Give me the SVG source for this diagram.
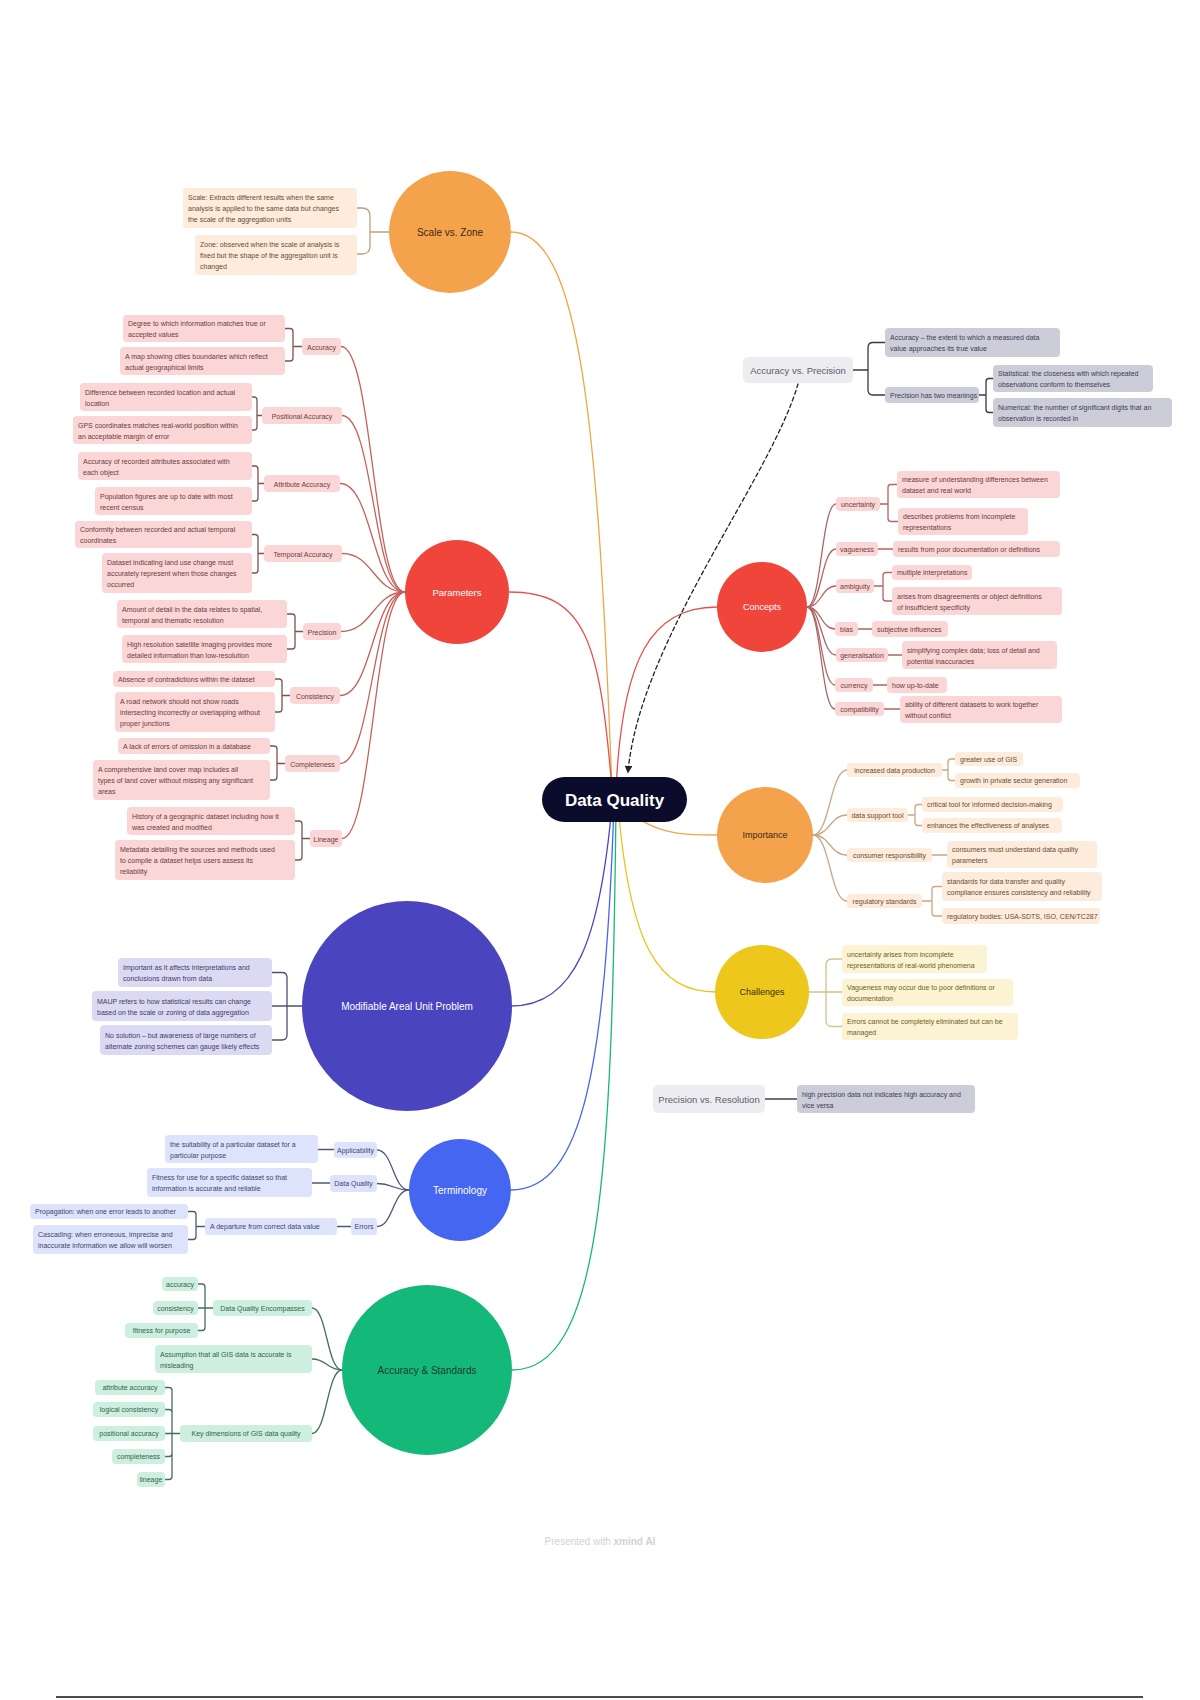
<svg xmlns="http://www.w3.org/2000/svg" width="1200" height="1700" viewBox="0 0 1200 1700">
<defs>
<marker id="arr" viewBox="0 0 10 10" refX="8" refY="5" markerWidth="6" markerHeight="6" orient="auto"><path d="M0,0 L10,5 L0,10 z" fill="#222"/></marker>
<style>
text{font-family:"Liberation Sans",Arial,sans-serif}
.t{font-size:7px}
.m{text-anchor:middle}
.or rect{fill:#FDEBDC}.or text{fill:#6A4B32}
.pk rect{fill:#FAD6D7}.pk text{fill:#6A3C3C}
.lv rect{fill:#DCDAF3}.lv text{fill:#3E3B6A}
.bl rect{fill:#DDE3FB}.bl text{fill:#3D4470}
.gr rect{fill:#CDEFE0}.gr text{fill:#355E4D}
.gy rect{fill:#CDCDDA}.gy text{fill:#3B3B55}
.ye rect{fill:#FBF3D2}.ye text{fill:#6A5E2A}
.tp rect{fill:#EDEDF1}.tp text{fill:#5A5A66;font-size:9.5px}
.c{fill:none;stroke-width:1.3;stroke-linecap:round}
.main text{text-anchor:middle}
</style>
</defs>
<rect width="1200" height="1700" fill="#FFFFFF"/>

<g id="connectors">
  <!-- root to main topics -->
  <path class="c" stroke="#EFA64A" d="M612,790 C598,420 580,232 511,232"/>
  <path class="c" stroke="#E0544C" d="M612,790 C600,640 585,592 509,592"/>
  <path class="c" stroke="#4B44C0" d="M612,805 C600,940 575,1006 511,1006"/>
  <path class="c" stroke="#4566F0" d="M614,805 C605,1060 585,1190 511,1190"/>
  <path class="c" stroke="#16B87A" d="M616,805 C612,1180 600,1370 512,1370"/>
  <path class="c" stroke="#E0544C" d="M616,790 C622,660 650,607 717,607"/>
  <path class="c" stroke="#EFA64A" d="M616,800 C650,835 680,835 717,835"/>
  <path class="c" stroke="#E8C51A" d="M618,805 C630,950 660,992 716,992"/>
  <path class="c" stroke="#222" stroke-dasharray="4 3" marker-end="url(#arr)" d="M798,384 C770,480 640,640 628,772"/>
  <!-- scale vs zone -->
  <path class="c" stroke="#BFA07E" d="M389,232 H370 V216 Q370,208 362,208 H357 M389,232 H370 V246 Q370,254 362,254 H357"/>
  <!-- parameters -->
  <g stroke="#C9605A" class="c">
    <path class="c" d="M405,592 C373,592 373,346.5 341,346.5"/>
    <path class="c" d="M405,592 C373.5,592 373.5,415.5 342,415.5"/>
    <path class="c" d="M405,592 C372.5,592 372.5,483.5 340,483.5"/>
    <path class="c" d="M405,592 C373.5,592 373.5,553.5 342,553.5"/>
    <path class="c" d="M405,592 C373,592 373,631.5 341,631.5"/>
    <path class="c" d="M405,592 C372.5,592 372.5,695.5 340,695.5"/>
    <path class="c" d="M405,592 C372.5,592 372.5,763.5 340,763.5"/>
    <path class="c" d="M405,592 C373.5,592 373.5,838.5 342,838.5"/>
  </g>
  <g stroke="#7D5252" class="c">
    <path class="c" d="M302,346.5 H293 V331.5 Q293,328.5 290,328.5 H285 M302,346.5 H293 V358 Q293,361 290,361 H285"/>
    <path class="c" d="M262,415.5 H257 V400 Q257,397 254,397 H252 M262,415.5 H257 V427 Q257,430 254,430 H252"/>
    <path class="c" d="M264,483.5 H258 V469 Q258,466 255,466 H252 M264,483.5 H258 V498 Q258,501 255,501 H252"/>
    <path class="c" d="M264,553.5 H258 V537.5 Q258,534.5 255,534.5 H252 M264,553.5 H258 V570 Q258,573 255,573 H252"/>
    <path class="c" d="M303,631.5 H295 V617 Q295,614 292,614 H287 M303,631.5 H295 V646 Q295,649 292,649 H287"/>
    <path class="c" d="M290,695.5 H282 V682 Q282,679 279,679 H275 M290,695.5 H282 V709 Q282,712 279,712 H275"/>
    <path class="c" d="M285,763.5 H277 V749 Q277,746 274,746 H270 M285,763.5 H277 V777 Q277,780 274,780 H270"/>
    <path class="c" d="M310,838.5 H302 V824 Q302,821 299,821 H295 M310,838.5 H302 V857 Q302,860 299,860 H295"/>
  </g>
  <!-- MAUP -->
  <path class="c" stroke="#4F4F70" d="M302,1006 H287 V977.5 Q287,972.5 282,972.5 H272 M302,1006 H272 M302,1006 H287 V1035 Q287,1040 282,1040 H272"/>
  <!-- terminology -->
  <g stroke="#50557A" class="c">
    <path class="c" d="M409,1190 C393,1190 393,1150 377,1150"/>
    <path class="c" d="M409,1190 C393,1190 393,1183.5 377,1183.5"/>
    <path class="c" d="M409,1190 C393,1190 393,1226.5 377,1226.5"/>
    <path class="c" d="M318,1149.5 H334 M312,1183 H330 M337,1226.5 H351"/>
    <path class="c" d="M205,1226.5 H196 V1214.5 Q196,1211.5 193,1211.5 H188 M205,1226.5 H196 V1236.5 Q196,1239.5 193,1239.5 H188"/>
  </g>
  <!-- accuracy & standards -->
  <g stroke="#456E5C" class="c">
    <path class="c" d="M342,1370 C327,1370 327,1308 312,1308"/>
    <path class="c" d="M342,1370 C327,1370 327,1359 312,1359"/>
    <path class="c" d="M342,1370 C327,1370 327,1433.5 312,1433.5"/>
    <path class="c" d="M213,1308 H205 V1287 Q205,1284 202,1284 H198 M213,1308 H198 M213,1308 H205 V1327.5 Q205,1330.5 202,1330.5 H198"/>
    <path class="c" d="M180,1433.5 H172 V1390.5 Q172,1387.5 169,1387.5 H165 M180,1433.5 H172 V1412.5 Q172,1409.5 169,1409.5 H165 M180,1433.5 H165 M180,1433.5 H172 V1453.5 Q172,1456.5 169,1456.5 H165 M180,1433.5 H172 V1476.5 Q172,1479.5 169,1479.5 H165"/>
  </g>
  <!-- accuracy vs precision -->
  <path class="c" stroke="#3A3A3A" d="M853,370 H868 V347.5 Q868,342.5 873,342.5 H885 M853,370 H868 V390 Q868,395 873,395 H885"/>
  <path class="c" stroke="#3A3A3A" d="M979,395 H986 V381.5 Q986,378.5 989,378.5 H993 M979,395 H986 V409.5 Q986,412.5 989,412.5 H993"/>
  <!-- concepts -->
  <g stroke="#B06464" class="c">
    <path class="c" d="M807,607 C821.5,607 821.5,504 836,504"/>
    <path class="c" d="M807,607 C821.5,607 821.5,549 836,549"/>
    <path class="c" d="M807,607 C821.5,607 821.5,586 836,586"/>
    <path class="c" d="M807,607 C821,607 821,629 835,629"/>
    <path class="c" d="M807,607 C821.5,607 821.5,655 836,655"/>
    <path class="c" d="M807,607 C821,607 821,685 835,685"/>
    <path class="c" d="M807,607 C821,607 821,709 835,709"/>
    <path class="c" d="M880,504 H888 V487.5 Q888,484.5 891,484.5 H897 M880,504 H888 V518.5 Q888,521.5 891,521.5 H898"/>
    <path class="c" d="M878,549 H893 M858,629 H872 M888,655 H902 M873,685 H887 M884,709 H900"/>
    <path class="c" d="M874,586 H883 V575.5 Q883,572.5 886,572.5 H892 M874,586 H883 V598 Q883,601 886,601 H892"/>
  </g>
  <!-- importance -->
  <g stroke="#C8A883" class="c">
    <path class="c" d="M813,835 C830,835 830,770 847,770"/>
    <path class="c" d="M813,835 C830,835 830,815 847,815"/>
    <path class="c" d="M813,835 C830,835 830,855 847,855"/>
    <path class="c" d="M813,835 C830,835 830,901 847,901"/>
    <path class="c" d="M942,770 H948 V762 Q948,759 951,759 H955 M942,770 H948 V777.5 Q948,780.5 951,780.5 H955"/>
    <path class="c" d="M908,815 H915 V807.5 Q915,804.5 918,804.5 H922 M908,815 H915 V822.5 Q915,825.5 918,825.5 H922"/>
    <path class="c" d="M932,855 H947"/>
    <path class="c" d="M922,901 H932 V889.5 Q932,886.5 935,886.5 H942 M922,901 H932 V913 Q932,916 935,916 H942"/>
  </g>
  <!-- challenges -->
  <path class="c" stroke="#CFC48C" d="M809,992 H826 V965 Q826,959 832,959 H842 M809,992 H842 M809,992 H826 V1020.5 Q826,1026.5 832,1026.5 H842"/>
  <!-- precision vs resolution -->
  <path class="c" stroke="#444" stroke-width="1.6" d="M765,1099 H797"/>
</g>

<!-- ROOT -->
<g id="root">
  <rect x="542" y="777" width="145" height="45" rx="22.5" fill="#0B0B2B"/>
  <text x="614.5" y="805.5" text-anchor="middle" font-size="17" font-weight="bold" fill="#FFFFFF">Data Quality</text>
</g>

<!-- MAIN TOPICS -->
<g id="scale-zone" class="main"><circle cx="450" cy="232" r="61" fill="#F4A24C"/><text x="450" y="236" font-size="10" fill="#3A2A1A">Scale vs. Zone</text></g>
<g id="parameters" class="main"><circle cx="457" cy="592" r="52" fill="#F0453A"/><text x="457" y="595.5" font-size="9.5" fill="#FFFFFF">Parameters</text></g>
<g id="maup" class="main"><circle cx="407" cy="1006" r="105" fill="#4A44BF"/><text x="407" y="1010" font-size="10" fill="#FFFFFF">Modifiable Areal Unit Problem</text></g>
<g id="terminology" class="main"><circle cx="460" cy="1190" r="51" fill="#4566F0"/><text x="460" y="1193.5" font-size="10" fill="#FFFFFF">Terminology</text></g>
<g id="accuracy-standards" class="main"><circle cx="427" cy="1370" r="85" fill="#14B979"/><text x="427" y="1373.5" font-size="10" fill="#1E3A2E">Accuracy &amp; Standards</text></g>
<g id="concepts" class="main"><circle cx="762" cy="607" r="45" fill="#F0453A"/><text x="762" y="610" font-size="9" fill="#FFFFFF">Concepts</text></g>
<g id="importance" class="main"><circle cx="765" cy="835" r="48" fill="#F4A24C"/><text x="765" y="838" font-size="9" fill="#3A2A1A">Importance</text></g>
<g id="challenges" class="main"><circle cx="762" cy="992" r="47" fill="#EEC71C"/><text x="762" y="995" font-size="9" fill="#3A3010">Challenges</text></g>
<g id="acc-vs-prec" class="tp"><rect x="743" y="357" width="110" height="26" rx="5"/><text x="798" y="373.5" class="m">Accuracy vs. Precision</text></g>
<g id="prec-vs-res" class="tp"><rect x="653" y="1085" width="112" height="28" rx="5"/><text x="709" y="1102.5" class="m">Precision vs. Resolution</text></g>

<!-- SCALE VS ZONE children -->
<g id="sz-scale" class="or"><rect x="183" y="188" width="174" height="40" rx="4"/><text class="t" x="188" y="199.5">Scale: Extracts different results when the same<tspan x="188" dy="11">analysis is applied to the same data but changes</tspan><tspan x="188" dy="11">the scale of the aggregation units</tspan></text></g>
<g id="sz-zone" class="or"><rect x="195" y="235" width="162" height="40" rx="4"/><text class="t" x="200" y="246.5">Zone: observed when the scale of analysis is<tspan x="200" dy="11">fixed but the shape of the aggregation unit is</tspan><tspan x="200" dy="11">changed</tspan></text></g>

<!-- PARAMETERS labels -->
<g id="p-accuracy" class="pk"><rect x="302" y="338" width="39" height="17" rx="4"/><text class="t m" x="321.5" y="349.5">Accuracy</text></g>
<g id="p-positional" class="pk"><rect x="262" y="407" width="80" height="17" rx="4"/><text class="t m" x="302" y="418.5">Positional Accuracy</text></g>
<g id="p-attribute" class="pk"><rect x="264" y="475" width="76" height="17" rx="4"/><text class="t m" x="302" y="486.5">Attribute Accuracy</text></g>
<g id="p-temporal" class="pk"><rect x="264" y="545" width="78" height="17" rx="4"/><text class="t m" x="303" y="556.5">Temporal Accuracy</text></g>
<g id="p-precision" class="pk"><rect x="303" y="623" width="38" height="17" rx="4"/><text class="t m" x="322" y="634.5">Precision</text></g>
<g id="p-consistency" class="pk"><rect x="290" y="687" width="50" height="17" rx="4"/><text class="t m" x="315" y="698.5">Consistency</text></g>
<g id="p-completeness" class="pk"><rect x="285" y="755" width="55" height="17" rx="4"/><text class="t m" x="312.5" y="766.5">Completeness</text></g>
<g id="p-lineage" class="pk"><rect x="310" y="830" width="32" height="17" rx="4"/><text class="t m" x="326" y="841.5">Lineage</text></g>

<!-- PARAMETERS boxes -->
<g id="p-acc-1" class="pk"><rect x="123" y="315" width="162" height="27" rx="4"/><text class="t" x="128" y="326">Degree to which information matches true or<tspan x="128" dy="11">accepted values</tspan></text></g>
<g id="p-acc-2" class="pk"><rect x="120" y="347" width="165" height="28" rx="4"/><text class="t" x="125" y="358.5">A map showing cities boundaries which reflect<tspan x="125" dy="11">actual geographical limits</tspan></text></g>
<g id="p-pos-1" class="pk"><rect x="80" y="383" width="172" height="28" rx="4"/><text class="t" x="85" y="394.5">Difference between recorded location and actual<tspan x="85" dy="11">location</tspan></text></g>
<g id="p-pos-2" class="pk"><rect x="73" y="416" width="179" height="28" rx="4"/><text class="t" x="78" y="427.5">GPS coordinates matches real-world position within<tspan x="78" dy="11">an acceptable margin of error</tspan></text></g>
<g id="p-att-1" class="pk"><rect x="78" y="452" width="174" height="28" rx="4"/><text class="t" x="83" y="463.5">Accuracy of recorded attributes associated with<tspan x="83" dy="11">each object</tspan></text></g>
<g id="p-att-2" class="pk"><rect x="95" y="487" width="157" height="28" rx="4"/><text class="t" x="100" y="498.5">Population figures are up to date with most<tspan x="100" dy="11">recent census</tspan></text></g>
<g id="p-tem-1" class="pk"><rect x="75" y="521" width="177" height="27" rx="4"/><text class="t" x="80" y="532">Conformity between recorded and actual temporal<tspan x="80" dy="11">coordinates</tspan></text></g>
<g id="p-tem-2" class="pk"><rect x="102" y="553" width="150" height="40" rx="4"/><text class="t" x="107" y="564.5">Dataset indicating land use change must<tspan x="107" dy="11">accurately represent when those changes</tspan><tspan x="107" dy="11">occurred</tspan></text></g>
<g id="p-pre-1" class="pk"><rect x="117" y="600" width="170" height="28" rx="4"/><text class="t" x="122" y="611.5">Amount of detail in the data relates to spatial,<tspan x="122" dy="11">temporal and thematic resolution</tspan></text></g>
<g id="p-pre-2" class="pk"><rect x="122" y="635" width="165" height="28" rx="4"/><text class="t" x="127" y="646.5">High resolution satellite imaging provides more<tspan x="127" dy="11">detailed information than low-resolution</tspan></text></g>
<g id="p-con-1" class="pk"><rect x="113" y="671" width="162" height="16" rx="4"/><text class="t" x="118" y="681.5">Absence of contradictions within the dataset</text></g>
<g id="p-con-2" class="pk"><rect x="115" y="692" width="160" height="40" rx="4"/><text class="t" x="120" y="703.5">A road network should not show roads<tspan x="120" dy="11">intersecting incorrectly or overlapping without</tspan><tspan x="120" dy="11">proper junctions</tspan></text></g>
<g id="p-com-1" class="pk"><rect x="118" y="738" width="152" height="16" rx="4"/><text class="t" x="123" y="748.5">A lack of errors of omission in a database</text></g>
<g id="p-com-2" class="pk"><rect x="93" y="760" width="177" height="40" rx="4"/><text class="t" x="98" y="771.5">A comprehensive land cover map includes all<tspan x="98" dy="11">types of land cover without missing any significant</tspan><tspan x="98" dy="11">areas</tspan></text></g>
<g id="p-lin-1" class="pk"><rect x="127" y="807" width="168" height="28" rx="4"/><text class="t" x="132" y="818.5">History of a geographic dataset including how it<tspan x="132" dy="11">was created and modified</tspan></text></g>
<g id="p-lin-2" class="pk"><rect x="115" y="840" width="180" height="40" rx="4"/><text class="t" x="120" y="851.5">Metadata detailing the sources and methods used<tspan x="120" dy="11">to compile a dataset helps users assess its</tspan><tspan x="120" dy="11">reliability</tspan></text></g>

<!-- MAUP children -->
<g id="maup-1" class="lv"><rect x="118" y="958" width="154" height="29" rx="4"/><text class="t" x="123" y="970">Important as it affects interpretations and<tspan x="123" dy="11">conclusions drawn from data</tspan></text></g>
<g id="maup-2" class="lv"><rect x="92" y="991" width="180" height="30" rx="4"/><text class="t" x="97" y="1003.5">MAUP refers to how statistical results can change<tspan x="97" dy="11">based on the scale or zoning of data aggregation</tspan></text></g>
<g id="maup-3" class="lv"><rect x="100" y="1025" width="172" height="30" rx="4"/><text class="t" x="105" y="1037.5">No solution – but awareness of large numbers of<tspan x="105" dy="11">alternate zoning schemes can gauge likely effects</tspan></text></g>

<!-- TERMINOLOGY children -->
<g id="t-applicability" class="bl"><rect x="334" y="1142" width="43" height="16" rx="4"/><text class="t m" x="355.5" y="1152.5">Applicability</text></g>
<g id="t-dataquality" class="bl"><rect x="330" y="1175" width="47" height="17" rx="4"/><text class="t m" x="353.5" y="1186">Data Quality</text></g>
<g id="t-errors" class="bl"><rect x="351" y="1218" width="26" height="17" rx="4"/><text class="t m" x="364" y="1229">Errors</text></g>
<g id="t-app-1" class="bl"><rect x="165" y="1135" width="153" height="28" rx="4"/><text class="t" x="170" y="1146.5">the suitability of a particular dataset for a<tspan x="170" dy="11">particular purpose</tspan></text></g>
<g id="t-dq-1" class="bl"><rect x="147" y="1168" width="165" height="29" rx="4"/><text class="t" x="152" y="1180">Fitness for use for a specific dataset so that<tspan x="152" dy="11">information is accurate and reliable</tspan></text></g>
<g id="t-err-1" class="bl"><rect x="205" y="1218" width="132" height="17" rx="4"/><text class="t" x="210" y="1229">A departure from correct data value</text></g>
<g id="t-err-prop" class="bl"><rect x="30" y="1204" width="158" height="15" rx="4"/><text class="t" x="35" y="1214">Propagation: when one error leads to another</text></g>
<g id="t-err-casc" class="bl"><rect x="33" y="1225" width="155" height="29" rx="4"/><text class="t" x="38" y="1237">Cascading: when erroneous, imprecise and<tspan x="38" dy="11">inaccurate information we allow will worsen</tspan></text></g>

<!-- ACCURACY & STANDARDS children -->
<g id="as-encompasses" class="gr"><rect x="213" y="1300" width="99" height="16" rx="4"/><text class="t m" x="262.5" y="1310.5">Data Quality Encompasses</text></g>
<g id="as-accuracy" class="gr"><rect x="162" y="1277" width="36" height="14" rx="4"/><text class="t m" x="180" y="1286.5">accuracy</text></g>
<g id="as-consistency" class="gr"><rect x="153" y="1301" width="45" height="14" rx="4"/><text class="t m" x="175.5" y="1310.5">consistency</text></g>
<g id="as-fitness" class="gr"><rect x="125" y="1323" width="73" height="15" rx="4"/><text class="t m" x="161.5" y="1333">fitness for purpose</text></g>
<g id="as-assumption" class="gr"><rect x="155" y="1345" width="157" height="28" rx="4"/><text class="t" x="160" y="1356.5">Assumption that all GIS data is accurate is<tspan x="160" dy="11">misleading</tspan></text></g>
<g id="as-key" class="gr"><rect x="180" y="1425" width="132" height="17" rx="4"/><text class="t m" x="246" y="1436">Key dimensions of GIS data quality</text></g>
<g id="as-attr" class="gr"><rect x="95" y="1380" width="70" height="15" rx="4"/><text class="t m" x="130" y="1390">attribute accuracy</text></g>
<g id="as-logical" class="gr"><rect x="93" y="1402" width="72" height="15" rx="4"/><text class="t m" x="129" y="1412">logical consistency</text></g>
<g id="as-positional" class="gr"><rect x="93" y="1426" width="72" height="15" rx="4"/><text class="t m" x="129" y="1436">positional accuracy</text></g>
<g id="as-completeness" class="gr"><rect x="112" y="1449" width="53" height="15" rx="4"/><text class="t m" x="138.5" y="1459">completeness</text></g>
<g id="as-lineage" class="gr"><rect x="137" y="1472" width="28" height="15" rx="4"/><text class="t m" x="151" y="1482">lineage</text></g>

<!-- ACCURACY VS PRECISION children -->
<g id="avp-accuracy" class="gy"><rect x="885" y="328" width="175" height="29" rx="4"/><text class="t" x="890" y="340">Accuracy – the extent to which a measured data<tspan x="890" dy="11">value approaches its true value</tspan></text></g>
<g id="avp-precision" class="gy"><rect x="885" y="387" width="94" height="16" rx="4"/><text class="t" x="890" y="397.5">Precision has two meanings</text></g>
<g id="avp-stat" class="gy"><rect x="993" y="365" width="160" height="27" rx="4"/><text class="t" x="998" y="376">Statistical: the closeness with which repeated<tspan x="998" dy="11">observations conform to themselves</tspan></text></g>
<g id="avp-num" class="gy"><rect x="993" y="398" width="179" height="29" rx="4"/><text class="t" x="998" y="410">Numerical: the number of significant digits that an<tspan x="998" dy="11">observation is recorded in</tspan></text></g>

<!-- CONCEPTS children -->
<g id="c-uncertainty" class="pk"><rect x="836" y="497" width="44" height="14" rx="4"/><text class="t m" x="858" y="506.5">uncertainty</text></g>
<g id="c-vagueness" class="pk"><rect x="836" y="542" width="42" height="14" rx="4"/><text class="t m" x="857" y="551.5">vagueness</text></g>
<g id="c-ambiguity" class="pk"><rect x="836" y="579" width="38" height="14" rx="4"/><text class="t m" x="855" y="588.5">ambiguity</text></g>
<g id="c-bias" class="pk"><rect x="835" y="622" width="23" height="14" rx="4"/><text class="t m" x="846.5" y="631.5">bias</text></g>
<g id="c-generalisation" class="pk"><rect x="836" y="648" width="52" height="14" rx="4"/><text class="t m" x="862" y="657.5">generalisation</text></g>
<g id="c-currency" class="pk"><rect x="835" y="678" width="38" height="14" rx="4"/><text class="t m" x="854" y="687.5">currency</text></g>
<g id="c-compatibility" class="pk"><rect x="835" y="702" width="49" height="14" rx="4"/><text class="t m" x="859.5" y="711.5">compatibility</text></g>
<g id="c-unc-1" class="pk"><rect x="897" y="471" width="163" height="27" rx="4"/><text class="t" x="902" y="482">measure of understanding differences between<tspan x="902" dy="11">dataset and real world</tspan></text></g>
<g id="c-unc-2" class="pk"><rect x="898" y="508" width="130" height="27" rx="4"/><text class="t" x="903" y="519">describes problems from incomplete<tspan x="903" dy="11">representations</tspan></text></g>
<g id="c-vag-1" class="pk"><rect x="893" y="541" width="167" height="16" rx="4"/><text class="t" x="898" y="551.5">results from poor documentation or definitions</text></g>
<g id="c-amb-1" class="pk"><rect x="892" y="565" width="80" height="15" rx="4"/><text class="t" x="897" y="575">multiple interpretations</text></g>
<g id="c-amb-2" class="pk"><rect x="892" y="587" width="170" height="28" rx="4"/><text class="t" x="897" y="598.5">arises from disagreements or object definitions<tspan x="897" dy="11">of insufficient specificity</tspan></text></g>
<g id="c-bias-1" class="pk"><rect x="872" y="621" width="76" height="16" rx="4"/><text class="t" x="877" y="631.5">subjective influences</text></g>
<g id="c-gen-1" class="pk"><rect x="902" y="641" width="155" height="28" rx="4"/><text class="t" x="907" y="652.5">simplifying complex data; loss of detail and<tspan x="907" dy="11">potential inaccuracies</tspan></text></g>
<g id="c-cur-1" class="pk"><rect x="887" y="677" width="60" height="16" rx="4"/><text class="t" x="892" y="687.5">how up-to-date</text></g>
<g id="c-com-1" class="pk"><rect x="900" y="696" width="162" height="27" rx="4"/><text class="t" x="905" y="707">ability of different datasets to work together<tspan x="905" dy="11">without conflict</tspan></text></g>

<!-- IMPORTANCE children -->
<g id="i-increased" class="or"><rect x="847" y="763" width="95" height="14" rx="4"/><text class="t m" x="894.5" y="772.5">increased data production</text></g>
<g id="i-support" class="or"><rect x="847" y="808" width="61" height="14" rx="4"/><text class="t m" x="877.5" y="817.5">data support tool</text></g>
<g id="i-consumer" class="or"><rect x="847" y="848" width="85" height="14" rx="4"/><text class="t m" x="889.5" y="857.5">consumer responsibility</text></g>
<g id="i-regulatory" class="or"><rect x="847" y="894" width="75" height="14" rx="4"/><text class="t m" x="884.5" y="903.5">regulatory standards</text></g>
<g id="i-inc-1" class="or"><rect x="955" y="752" width="68" height="14" rx="4"/><text class="t" x="960" y="761.5">greater use of GIS</text></g>
<g id="i-inc-2" class="or"><rect x="955" y="773" width="125" height="15" rx="4"/><text class="t" x="960" y="783">growth in private sector generation</text></g>
<g id="i-sup-1" class="or"><rect x="922" y="797" width="141" height="15" rx="4"/><text class="t" x="927" y="807">critical tool for informed decision-making</text></g>
<g id="i-sup-2" class="or"><rect x="922" y="818" width="140" height="15" rx="4"/><text class="t" x="927" y="828">enhances the effectiveness of analyses</text></g>
<g id="i-con-1" class="or"><rect x="947" y="841" width="150" height="27" rx="4"/><text class="t" x="952" y="852">consumers must understand data quality<tspan x="952" dy="11">parameters</tspan></text></g>
<g id="i-reg-1" class="or"><rect x="942" y="872" width="160" height="29" rx="4"/><text class="t" x="947" y="884">standards for data transfer and quality<tspan x="947" dy="11">compliance ensures consistency and reliability</tspan></text></g>
<g id="i-reg-2" class="or"><rect x="942" y="908" width="158" height="16" rx="4"/><text class="t" x="947" y="918.5">regulatory bodies: USA-SDTS, ISO, CEN/TC287</text></g>

<!-- CHALLENGES children -->
<g id="ch-1" class="ye"><rect x="842" y="945" width="145" height="28" rx="4"/><text class="t" x="847" y="956.5">uncertainty arises from incomplete<tspan x="847" dy="11">representations of real-world phenomena</tspan></text></g>
<g id="ch-2" class="ye"><rect x="842" y="979" width="171" height="27" rx="4"/><text class="t" x="847" y="990">Vagueness may occur due to poor definitions or<tspan x="847" dy="11">documentation</tspan></text></g>
<g id="ch-3" class="ye"><rect x="842" y="1013" width="176" height="27" rx="4"/><text class="t" x="847" y="1024">Errors cannot be completely eliminated but can be<tspan x="847" dy="11">managed</tspan></text></g>

<!-- PRECISION VS RESOLUTION child -->
<g id="pvr-1" class="gy"><rect x="797" y="1085" width="178" height="28" rx="4"/><text class="t" x="802" y="1096.5">high precision data not indicates high accuracy and<tspan x="802" dy="11">vice versa</tspan></text></g>

<!-- footer -->
<text x="600" y="1545" text-anchor="middle" font-size="10" fill="#D2D2D2">Presented with <tspan font-weight="bold">xmind AI</tspan></text>
<line x1="56" y1="1697" x2="1143" y2="1697" stroke="#111" stroke-width="1.5"/>
</svg>
